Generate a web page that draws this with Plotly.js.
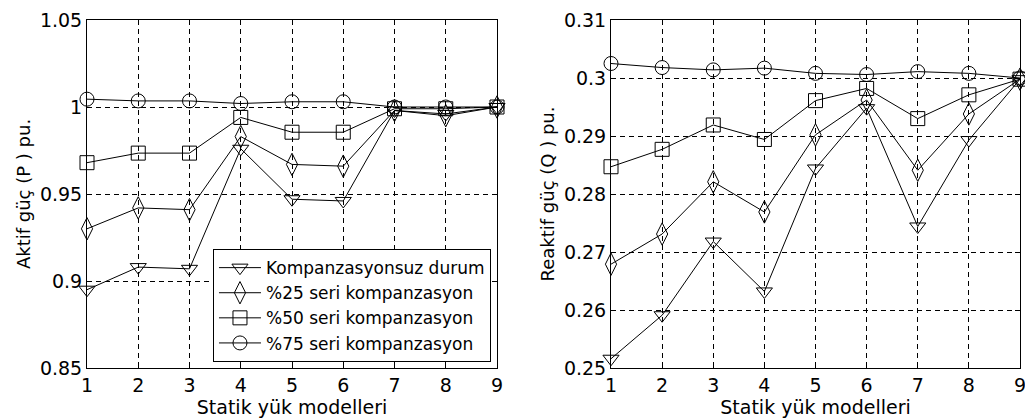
<!DOCTYPE html>
<html><head><meta charset="utf-8">
<script src="https://cdn.plot.ly/plotly-3.0.1.min.js"></script>
<style>html,body{margin:0;padding:0;background:#fff}#chart{width:1025px;height:420px}</style>
</head><body><div id="chart"></div>
<script>
const models = [1, 2, 3, 4, 5, 6, 7, 8, 9];
const seriesNames = ["Kompanzasyonsuz durum", "%25 seri kompanzasyon", "%50 seri kompanzasyon", "%75 seri kompanzasyon"];
const symbols = ["triangle-down-open", "diamond-tall-open", "square-open", "circle-open"];

// Aktif güç (P) pu.
const pUncomp = [0.895, 0.908, 0.907, 0.976, 0.947, 0.946, 0.998, 0.996, 1.000];
const p25 = [0.930, 0.942, 0.941, 0.983, 0.967, 0.966, 0.998, 0.995, 1.000];
const p50 = [0.968, 0.9735, 0.9735, 0.994, 0.9855, 0.9855, 0.999, 0.999, 1.000];
const p75 = [1.0045, 1.0035, 1.0035, 1.002, 1.003, 1.003, 1.000, 1.000, 1.000];

// Reaktif güç (Q) pu.
const qUncomp = [0.2516, 0.2591, 0.2718, 0.2632, 0.2844, 0.2948, 0.2744, 0.2893, 0.2998];
const q25 = [0.2679, 0.2731, 0.2821, 0.2769, 0.2902, 0.2962, 0.2841, 0.2938, 0.2998];
const q50 = [0.2847, 0.2877, 0.2919, 0.2894, 0.2961, 0.2982, 0.2930, 0.2971, 0.2998];
const q75 = [0.3025, 0.3018, 0.3014, 0.3017, 0.3008, 0.3006, 0.3011, 0.3008, 0.3000];

const pTickVals = [0.85, 0.9, 0.95, 1, 1.05];
const pTickText = ["0.85", "0.9", "0.95", "1", "1.05"];
const qTickVals = [0.25, 0.26, 0.27, 0.28, 0.29, 0.30, 0.31];
const qTickText = ["0.25", "0.26", "0.27", "0.28", "0.29", "0.3", "0.31"];

const pSeries = [pUncomp, p25, p50, p75];
const qSeries = [qUncomp, q25, q50, q75];

const traces = [];
pSeries.forEach((ys, i) => {
  traces.push({
    x: models, y: ys, xaxis: "x", yaxis: "y", type: "scatter", mode: "lines+markers",
    name: seriesNames[i], cliponaxis: false,
    line: {color: "#000", width: 1},
    marker: {symbol: symbols[i], size: i === 1 ? 16 : 14, color: "#000", line: {width: 1, color: "#000"}}
  });
});
qSeries.forEach((ys, i) => {
  traces.push({
    x: models, y: ys, xaxis: "x2", yaxis: "y2", type: "scatter", mode: "lines+markers",
    name: seriesNames[i], showlegend: false, cliponaxis: false,
    line: {color: "#000", width: 1},
    marker: {symbol: symbols[i], size: i === 1 ? 16 : 14, color: "#000", line: {width: 1, color: "#000"}}
  });
});

const axBase = {
  showline: true, linecolor: "#000", linewidth: 1, mirror: "ticks",
  ticks: "inside", ticklen: 5, tickcolor: "#000",
  showgrid: true, gridcolor: "#000", gridwidth: 1, griddash: "5px,4px",
  zeroline: false, tickfont: {size: 19, color: "#000"}, ticklabeloverflow: "allow"
};

const layout = {
  width: 1025, height: 420,
  margin: {l: 0, r: 0, t: 20, b: 52},
  paper_bgcolor: "#fff", plot_bgcolor: "#fff",
  font: {family: "DejaVu Sans, sans-serif", color: "#000", size: 18},
  showlegend: true,
  legend: {
    x: 0.479, y: 0.017, xanchor: "right", yanchor: "bottom",
    xref: "paper", yref: "paper", itemwidth: 42,
    bgcolor: "#fff", bordercolor: "#000", borderwidth: 1,
    font: {size: 17, color: "#000"}
  },
  xaxis: Object.assign({}, axBase, {
    domain: [87/1025, 497/1025], range: [1, 9], tickvals: models, ticktext: models.map(String),
    title: {text: "Statik yük modelleri", standoff: 2, font: {size: 19}}, anchor: "y"
  }),
  yaxis: Object.assign({}, axBase, {
    range: [0.85, 1.05], tickvals: pTickVals, ticktext: pTickText,
    title: {text: "Aktif güç (P ) pu.", standoff: 4, font: {size: 18}}, anchor: "x"
  }),
  xaxis2: Object.assign({}, axBase, {
    domain: [611/1025, 1020/1025], range: [1, 9], tickvals: models, ticktext: models.map(String),
    title: {text: "Statik yük modelleri", standoff: 2, font: {size: 19}}, anchor: "y2"
  }),
  yaxis2: Object.assign({}, axBase, {
    range: [0.25, 0.31], tickvals: qTickVals, ticktext: qTickText,
    title: {text: "Reaktif güç (Q ) pu.", standoff: 4, font: {size: 18}}, anchor: "x2"
  })
};

Plotly.newPlot("chart", traces, layout, {displayModeBar: false, staticPlot: true});
</script>
</body></html>
